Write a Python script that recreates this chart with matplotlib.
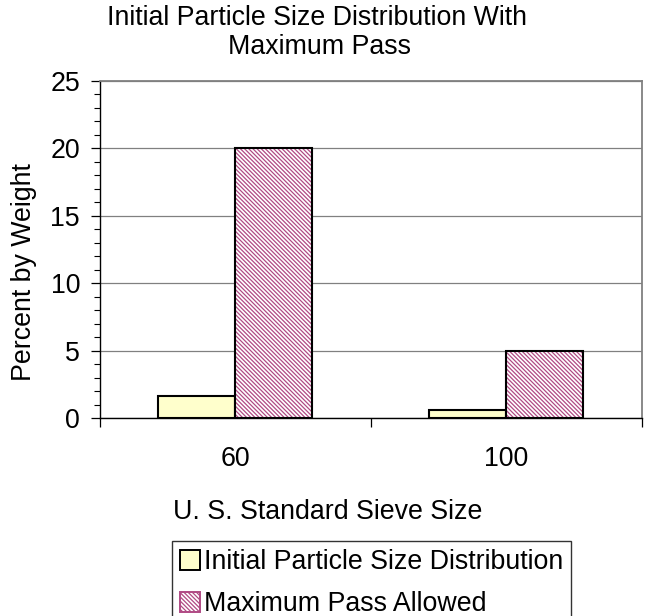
import matplotlib.pyplot as plt
from matplotlib.patches import Patch
from matplotlib.ticker import MultipleLocator, FixedLocator

plt.rcParams["font.family"] = ["Liberation Sans", "DejaVu Sans"]
plt.rcParams["hatch.linewidth"] = 0.9

sieve_sizes = ["60", "100"]
initial_dist = [1.6, 0.6]
max_pass = [20, 5]
series_names = ["Initial Particle Size Distribution", "Maximum Pass Allowed"]

FS = 19.3
yellow = "#FFFFCC"
hatch_col = "#B04A84"
hatch = "\\" * 8

fig = plt.figure(figsize=(6.45, 6.16), dpi=100)
ax = fig.add_axes([99.5 / 645, 1 - 418 / 616, 542 / 645, 337 / 616])

x = list(range(len(sieve_sizes)))
w = 0.285
x_init = [i - w / 2 for i in x]
x_max = [i + w / 2 for i in x]

ax.bar(x_init, initial_dist, width=w, color=yellow, edgecolor="black",
       linewidth=1.5, zorder=3)
# hatched fill first, then a plain black outline on top
ax.bar(x_max, max_pass, width=w, color="white", edgecolor=hatch_col,
       hatch=hatch, linewidth=0, zorder=3)
ax.bar(x_max, max_pass, width=w, fill=False, edgecolor="black",
       linewidth=1.5, zorder=4)

ax.set_xlim(-0.5, 1.5)
ax.set_ylim(0, 25)
ax.yaxis.set_major_locator(MultipleLocator(5))
ax.yaxis.set_minor_locator(MultipleLocator(1))
ax.grid(axis="y", color="#808080", linewidth=0.9, zorder=0)

ax.xaxis.set_major_locator(FixedLocator([-0.5, 0.5, 1.5]))
ax.xaxis.set_minor_locator(FixedLocator(x))
ax.set_xticklabels([], minor=False)
ax.set_xticklabels(sieve_sizes, minor=True)
ax.tick_params(axis="x", which="major", direction="out", length=6.5, width=0.9)
ax.tick_params(axis="x", which="minor", length=0, pad=20.5, labelsize=FS)
ax.tick_params(axis="y", which="major", direction="out", length=6.5, width=0.9,
               labelsize=FS, pad=7.5)
ax.tick_params(axis="y", which="minor", direction="out", length=4.3, width=0.8)

for side in ("top", "right"):
    ax.spines[side].set_color("#808080")
    ax.spines[side].set_linewidth(1.3)
ax.spines["left"].set_linewidth(1.0)
ax.spines["bottom"].set_linewidth(1.0)

fig.text(317 / 645, 1 - 18 / 616, "Initial Particle Size Distribution With",
         ha="center", va="center", fontsize=FS)
fig.text(319 / 645, 1 - 47 / 616, "Maximum Pass", ha="center", va="center",
         fontsize=FS)
fig.text(24 / 645, 1 - 272 / 616, "Percent by Weight", rotation=90,
         ha="center", va="center", fontsize=FS)
fig.text(328 / 645, 1 - 512 / 616, "U. S. Standard Sieve Size",
         ha="center", va="center", fontsize=FS)

handles = [
    Patch(facecolor=yellow, edgecolor="black", linewidth=1.4),
    Patch(facecolor="white", edgecolor=hatch_col, hatch=hatch, linewidth=1.4),
]
leg = fig.legend(handles, series_names, loc="upper left",
                 bbox_to_anchor=(172 / 645, 1 - 541 / 616), fontsize=FS,
                 frameon=True, fancybox=False, edgecolor="black",
                 handlelength=0.75, handleheight=0.75, handletextpad=0.15,
                 borderpad=0.3, labelspacing=0.6, borderaxespad=0)
leg.get_frame().set_linewidth(1.0)

fig.savefig("out.png", dpi=100)
